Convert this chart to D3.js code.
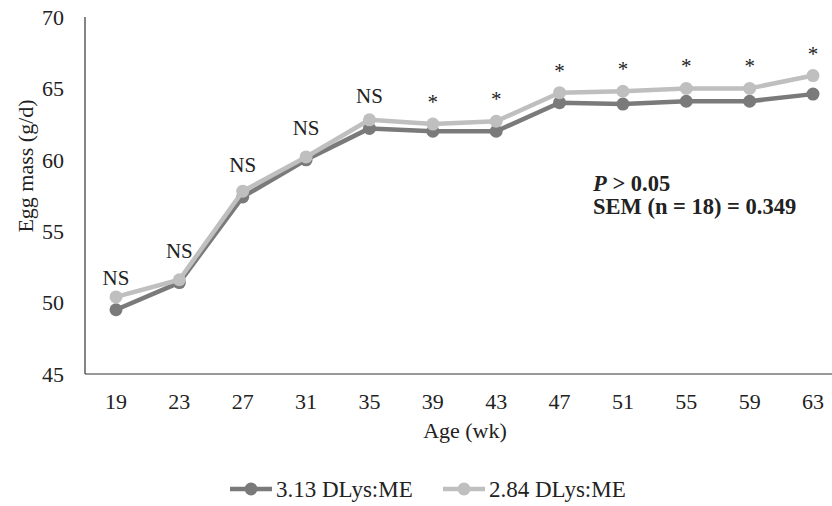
<!DOCTYPE html>
<html><head><meta charset="utf-8">
<script src="https://cdn.jsdelivr.net/npm/d3@7"></script>
<style>body{margin:0;background:#fff}svg{display:block}</style>
</head><body>
<script>
const ages = ["19","23","27","31","35","39","43","47","51","55","59","63"];
const seriesA = [49.5,51.4,57.4,60.0,62.2,62.0,62.0,64.0,63.9,64.1,64.1,64.6];
const seriesB = [50.4,51.6,57.8,60.2,62.8,62.5,62.7,64.7,64.8,65.0,65.0,65.9];
const sigLabels = ["NS","NS","NS","NS","NS","*","*","*","*","*","*","*"];
const yTicks = [45,50,55,60,65,70];
const seriesNames = ["3.13 DLys:ME","2.84 DLys:ME"];
const colors = ["#7a7a7a","#bfbfbf"];
const FONT = '"Liberation Serif","Times New Roman",serif';

const W=832,H=506;
const svg=d3.select("body").append("svg").attr("width",W).attr("height",H)
  .style("font-family",FONT);
const x=d3.scalePoint().domain(ages).range([116,813]);
const y=d3.scaleLinear().domain([45,70]).range([374,17]);

svg.append("line").attr("x1",85).attr("x2",85).attr("y1",17).attr("y2",374).attr("stroke","#333").attr("stroke-width",1.2);
svg.append("line").attr("x1",85).attr("x2",845).attr("y1",374).attr("y2",374).attr("stroke","#333").attr("stroke-width",1.2);

function T(sel){return sel.style("font-family",FONT).attr("fill","#222");}

T(svg.selectAll(".yt").data(yTicks).join("text")).attr("x",64).attr("y",d=>y(d)).attr("dy","0.35em")
  .attr("text-anchor","end").attr("font-size",22).text(d=>d);
T(svg.selectAll(".xt").data(ages).join("text")).attr("x",d=>x(d)).attr("y",409)
  .attr("text-anchor","middle").attr("font-size",22).text(d=>d);

T(svg.append("text")).attr("x",465).attr("y",438).attr("text-anchor","middle").attr("font-size",22).text("Age (wk)");
T(svg.append("text")).attr("transform","translate(25,166) rotate(-90)").attr("dy","0.35em").attr("text-anchor","middle").attr("font-size",22).text("Egg mass (g/d)");

const line=d3.line().x((d,i)=>x(ages[i])).y(d=>y(d));
[seriesA,seriesB].forEach((s,k)=>{
  const g=svg.append("g");
  g.append("path").datum(s).attr("d",line).attr("fill","none").attr("stroke",colors[k]).attr("stroke-width",4.5).attr("stroke-linejoin","round");
  g.selectAll("circle").data(s).join("circle").attr("cx",(d,i)=>x(ages[i])).attr("cy",d=>y(d)).attr("r",6.5).attr("fill",colors[k]);
});

T(svg.selectAll(".sig").data(sigLabels).join("text"))
  .attr("x",(d,i)=>x(ages[i]))
  .attr("y",(d,i)=>d==="NS"?y(seriesA[i])-25:y(seriesB[i])-15)
  .attr("text-anchor","middle").attr("font-size",21).text(d=>d);

const ann=T(svg.append("text")).attr("x",593).attr("y",191).attr("font-size",22.5).attr("font-weight","bold");
ann.append("tspan").attr("font-style","italic").text("P");
ann.append("tspan").text(" > 0.05");
T(svg.append("text")).attr("x",593).attr("y",214).attr("font-size",22.5).attr("font-weight","bold").text("SEM (n = 18) = 0.349");

const lx=[230,443];
seriesNames.forEach((n,k)=>{
  const g=svg.append("g");
  g.append("line").attr("x1",lx[k]).attr("x2",lx[k]+42).attr("y1",489).attr("y2",489).attr("stroke",colors[k]).attr("stroke-width",4.5);
  g.append("circle").attr("cx",lx[k]+21).attr("cy",489).attr("r",6.5).attr("fill",colors[k]);
  T(g.append("text")).attr("x",lx[k]+46).attr("y",489).attr("dy","0.35em").attr("font-size",23).text(n);
});
</script>
</body></html>
